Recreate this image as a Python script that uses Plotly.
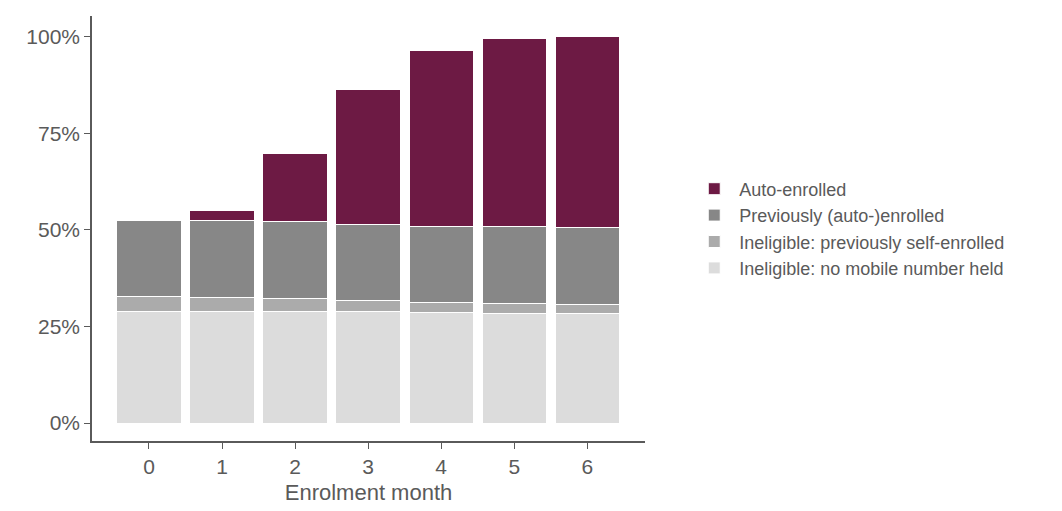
import plotly.graph_objects as go

months = [0, 1, 2, 3, 4, 5, 6]
no_mobile = [28.9, 28.9, 28.9, 28.9, 28.7, 28.4, 28.4]
self_enrolled = [3.9, 3.7, 3.4, 2.9, 2.6, 2.6, 2.3]
previously = [19.7, 19.9, 19.9, 19.6, 19.6, 19.9, 19.9]
auto = [0.0, 2.5, 17.6, 34.9, 45.5, 48.8, 49.4]

series = [
    ("Ineligible: no mobile number held", no_mobile, "#dcdcdc"),
    ("Ineligible: previously self-enrolled", self_enrolled, "#ababab"),
    ("Previously (auto-)enrolled", previously, "#878787"),
    ("Auto-enrolled", auto, "#6d1a44"),
]

fig = go.Figure()
for name, vals, col in series:
    fig.add_bar(x=months, y=[v / 100 for v in vals], name=name,
                marker=dict(color=col, line=dict(color="white", width=1)))

fig.update_layout(
    barmode="stack", bargap=0.12, width=1062, height=511,
    plot_bgcolor="white", paper_bgcolor="white",
    margin=dict(l=84, r=425, t=8, b=78),
    font=dict(family="Liberation Sans, Arial", color="#5a5a5a"),
    legend=dict(x=1.08, y=0.5, yanchor="middle", traceorder="reversed",
                font=dict(size=18), itemwidth=40, tracegroupgap=12),
    xaxis=dict(range=[-0.78, 6.79], tickvals=months, showline=True, linecolor="#5a5a5a",
               linewidth=1.5, ticks="outside", ticklen=6, tickcolor="#5a5a5a",
               tickfont=dict(size=21), title=dict(text="Enrolment month", font=dict(size=22), standoff=8)),
    yaxis=dict(range=[-0.0465, 1.054], tickvals=[0, 0.25, 0.5, 0.75, 1],
               tickformat=".0%", showline=True, linecolor="#5a5a5a", linewidth=1.5,
               ticks="outside", ticklen=6, tickcolor="#5a5a5a", showgrid=False,
               zeroline=False, tickfont=dict(size=21)),
)
fig.write_html("out.html")
